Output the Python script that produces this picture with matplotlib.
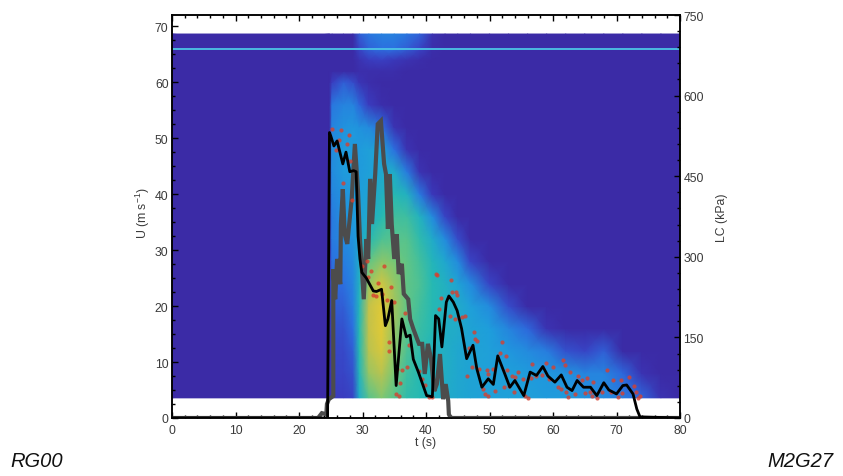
import matplotlib
matplotlib.use("Agg")
import matplotlib.pyplot as plt
from matplotlib.colors import LinearSegmentedColormap
from matplotlib.ticker import MultipleLocator

plt.rcParams['font.family'] = ['Liberation Sans', 'DejaVu Sans']
plt.rcParams['mathtext.fontset'] = 'custom'
plt.rcParams['mathtext.rm'] = 'Liberation Sans'
plt.rcParams['mathtext.default'] = 'regular'

heat_t = [0, 24.8, 25.2, 27, 28.5, 29.5, 31, 33, 35, 37, 39, 41, 43, 45, 47, 50, 53, 56, 59, 62, 65, 68, 71, 74, 77, 80]
heat_u = [3.6, 8, 12, 16, 20, 24, 28, 32, 36, 40, 44, 48, 52, 56, 60, 62, 64, 66, 68.6]
heat = [
 [0,0,.10,.10,.12,.42,.60,.68,.60,.52,.50,.45,.42,.40,.38,.36,.36,.36,.34,.34,.32,.30,.26,.20,.05,0],
 [0,0,.12,.12,.15,.48,.72,.78,.66,.55,.50,.46,.44,.40,.38,.36,.36,.34,.33,.32,.28,.28,.20,.05,0,0],
 [0,0,.13,.13,.18,.50,.78,.88,.70,.58,.52,.46,.44,.40,.38,.36,.33,.30,.26,.15,.12,.18,0,0,0,0],
 [0,0,.15,.15,.22,.50,.80,.92,.72,.60,.54,.50,.44,.42,.38,.35,.28,.20,.05,0,0,0,0,0,0,0],
 [0,0,.18,.18,.26,.48,.80,.92,.74,.62,.56,.50,.46,.42,.36,.30,.14,0,0,0,0,0,0,0,0,0],
 [0,0,.20,.22,.28,.45,.72,.85,.72,.62,.58,.50,.45,.38,.30,.12,0,0,0,0,0,0,0,0,0,0],
 [0,0,.22,.26,.30,.42,.62,.70,.66,.62,.56,.48,.40,.30,.12,0,0,0,0,0,0,0,0,0,0,0],
 [0,0,.25,.30,.32,.38,.50,.58,.60,.60,.52,.42,.30,.14,0,0,0,0,0,0,0,0,0,0,0,0],
 [0,0,.25,.32,.34,.36,.42,.50,.56,.55,.46,.30,.12,0,0,0,0,0,0,0,0,0,0,0,0,0],
 [0,0,.28,.32,.34,.35,.38,.45,.50,.45,.25,.08,0,0,0,0,0,0,0,0,0,0,0,0,0,0],
 [0,0,.30,.34,.34,.34,.36,.40,.42,.25,.05,0,0,0,0,0,0,0,0,0,0,0,0,0,0,0],
 [0,0,.30,.34,.34,.34,.36,.38,.22,.05,0,0,0,0,0,0,0,0,0,0,0,0,0,0,0,0],
 [0,0,.28,.32,.33,.32,.30,.22,.05,0,0,0,0,0,0,0,0,0,0,0,0,0,0,0,0,0],
 [0,0,.24,.28,.28,.20,.10,.02,0,0,0,0,0,0,0,0,0,0,0,0,0,0,0,0,0,0],
 [0,0,.10,.18,.14,.06,.02,0,0,0,0,0,0,0,0,0,0,0,0,0,0,0,0,0,0,0],
 [0,0,0,0,0,.02,.02,.02,.02,0,0,0,0,0,0,0,0,0,0,0,0,0,0,0,0,0],
 [0,0,0,0,0,.05,.10,.11,.08,.05,.02,0,0,0,0,0,0,0,0,0,0,0,0,0,0,0],
 [0,0,0,0,0,.12,.19,.22,.22,.18,.12,.02,0,0,0,0,0,0,0,0,0,0,0,0,0,0],
 [0,0,0,0,0,.18,.24,.27,.27,.24,.19,.04,0,0,0,0,0,0,0,0,0,0,0,0,0,0],
]

flat_line_u = 66.0

black_t = [0, 24.5, 24.8, 25, 25.5, 26, 26.9, 27.4, 28, 28.6, 29, 29.3, 29.6, 29.9, 30.6, 31.7, 32.2, 33, 33.6, 34, 34.6, 35.3, 36.2, 36.9, 37.5, 38, 38.8, 40.1, 41, 41.2, 41.5, 42, 42.5, 43.2, 43.6, 44.3, 44.9, 45.6, 46.4, 47.4, 48, 48.8, 49.8, 50.6, 51.3, 52.4, 53.2, 54, 55.4, 56.4, 57.4, 58.4, 59.2, 60.3, 61.3, 62.2, 63, 63.8, 64.8, 65.9, 66.9, 68, 68.8, 70, 71, 71.6, 72.6, 73.2, 73.7, 80]
black_u = [0, 0, 51, 50.4, 48.6, 49.5, 45.4, 47.5, 44, 44.2, 44, 32.5, 28.4, 26, 25, 22.7, 22.6, 23, 16.5, 17.7, 21, 5.8, 17.7, 14.5, 14.8, 10.5, 8.2, 4, 3.8, 9, 18.3, 17.7, 12.7, 20.7, 21.8, 20.7, 19.2, 16, 10.6, 13, 8.8, 5.5, 7, 6, 11.1, 7.9, 5.5, 6.7, 4, 8.2, 7.6, 9.2, 7.5, 6.4, 7.7, 5.5, 4.9, 6.7, 5.5, 5.5, 4, 6.3, 5, 4.3, 5.8, 5.9, 4.3, 1.6, 0.2, 0]

gray_t = [0, 23, 23.6, 24.3, 24.4, 24.7, 25.4, 25.4, 25.7, 26, 26.5, 26.6, 26.9, 27.2, 27.6, 28.3, 28.8, 29.3, 29.6, 30.2, 30.6, 30.9, 31.2, 31.5, 32, 32.4, 32.9, 33.4, 33.7, 34, 34.3, 34.6, 35, 35.4, 35.7, 36.2, 36.5, 37.2, 37.5, 38, 38.6, 38.9, 39.4, 39.8, 40.3, 40.8, 41.3, 41.7, 42.2, 42.7, 43.1, 43.5, 43.6, 43.9, 80]
gray_kpa = [0, 0, 9, 7, 26, 35, 41, 277, 221, 296, 249, 361, 426, 342, 324, 408, 510, 421, 333, 221, 333, 296, 445, 361, 454, 547, 553, 473, 454, 352, 454, 361, 296, 342, 268, 287, 231, 221, 184, 166, 147, 138, 138, 82, 138, 110, 50, 63, 119, 35, 63, 32, 7, 0, 0]

red_t = [25.2, 26.6, 27.8, 26.3, 27.5, 25.9, 28, 27, 28.3, 29.9, 30.7, 31.4, 33.4, 30.9, 32.4, 34.5, 31.7, 32.2, 33, 33.8, 35, 34.1, 34.2, 35.4, 36.2, 37, 35.9, 35.3, 35.7, 37.4, 36.7, 38.9, 39.3, 39.8, 40.5, 41, 41.6, 41.8, 43.9, 44.1, 44.7, 44.9, 42.3, 42.1, 43.8, 44.6, 45.6, 46.1, 47.5, 47.7, 48.1, 46.7, 47.3, 46.4, 48.4, 49.6, 50.6, 49.8, 49, 49.3, 49.7, 50.9, 52, 51.7, 52.6, 52.8, 53.5, 54, 52.3, 53, 53.8, 54.5, 55.2, 55.6, 56, 56.7, 56.6, 57.4, 58.2, 58.9, 59.3, 60, 61.5, 61.9, 62.7, 60.8, 61.3, 62, 62.4, 63.4, 64, 65.3, 64.5, 66.3, 65, 65.8, 66.1, 66.9, 68.5, 69.5, 70.7, 72, 67.7, 69.2, 70.3, 70.8, 72.8, 73.7, 73.4, 73]
red_u = [51.6, 51.4, 50.5, 49.6, 49, 47.8, 45.9, 42, 38.9, 27.2, 28.1, 26.2, 27.1, 25.2, 24.1, 23.4, 21.9, 21.8, 22.2, 21, 20.8, 13.6, 11.9, 8.8, 8.6, 9.1, 6.3, 4.3, 3.9, 13.1, 18.8, 8.4, 7, 5.9, 3.7, 3.7, 25.8, 25.5, 24.7, 22.6, 22.6, 21.9, 21.5, 19.4, 18.3, 17.7, 18, 18.2, 15.4, 14.1, 13.7, 12.5, 9.2, 7.5, 8.8, 8.6, 8.8, 7.9, 5.2, 4.3, 4, 4.9, 13.6, 11.7, 11, 8.5, 7.5, 7.3, 5.5, 5.7, 4.6, 8.3, 6.9, 4, 3.6, 9.7, 7.1, 7.5, 7.6, 9.8, 7, 9.2, 10.3, 9.4, 8.3, 5.5, 5.1, 4.6, 3.8, 4.3, 7.5, 7.1, 6.7, 6.5, 4.5, 4.7, 3.9, 3.5, 8.6, 6.8, 6.7, 7.3, 4.6, 4.7, 3.7, 4.4, 5.8, 4, 3.6, 4.6]

x_ticks = [0, 10, 20, 30, 40, 50, 60, 70, 80]
u_ticks = [0, 10, 20, 30, 40, 50, 60, 70]
lc_ticks = [0, 150, 300, 450, 600, 750]

cmap = LinearSegmentedColormap.from_list("par", [
    (0.0, "#3B2BA6"), (0.10, "#3A3CC0"), (0.22, "#2C6FE0"), (0.35, "#1E9EDC"),
    (0.50, "#25B9B4"), (0.65, "#70C87A"), (0.80, "#C4C24A"), (1.0, "#F2CF2A")])

W, H = 843, 477
fig = plt.figure(figsize=(W / 100, H / 100), dpi=100, facecolor="white")
ax = fig.add_axes([172 / W, 1 - 419 / H, (680 - 172) / W, (419 - 16) / H])
ax.pcolormesh(heat_t, heat_u, heat, cmap=cmap, vmin=0, vmax=1, shading="gouraud", rasterized=True)
ax.axhline(flat_line_u, color="#4CC4E6", lw=1.3)
ax.set_xlim(0, 80)
ax.set_ylim(0, 72)

ax2 = ax.twinx()
ax2.plot(gray_t, gray_kpa, color="#4C4C4C", lw=3.0, solid_joinstyle="miter")
ax2.set_ylim(0, 750)

ax3 = ax.twinx()
ax3.set_ylim(0, 72)
ax3.axis("off")
ax3.scatter(red_t, red_u, s=9, color="#D8402E", alpha=0.8, lw=0, clip_on=False)
ax3.plot(black_t, black_u, color="black", lw=2.0, solid_joinstyle="round")

tc = "#3A3A3A"
fs = 8.8
ax.set_xticks(x_ticks)
ax.set_yticks(u_ticks)
ax.xaxis.set_minor_locator(MultipleLocator(2))
ax.yaxis.set_minor_locator(MultipleLocator(2.5))
ax.tick_params(which="major", direction="in", length=4.5, width=1, top=True, labelsize=fs, labelcolor=tc, pad=2.5)
ax.tick_params(axis="x", which="major", pad=4.5)
ax.tick_params(which="minor", direction="in", length=2, width=1, top=True)
ax2.set_yticks(lc_ticks)
ax2.yaxis.set_minor_locator(MultipleLocator(30))
ax2.tick_params(which="major", direction="in", length=4.5, width=1, labelsize=fs, labelcolor=tc, pad=2.5)
ax2.tick_params(which="minor", direction="in", length=2, width=1)
for a in (ax, ax2):
    for s in a.spines.values():
        s.set_linewidth(1.1)

fig.text(143 / W, 1 - 213 / H, "U (m s$^{-1}$)", rotation=90, ha="center", va="center", fontsize=fs, color=tc)
fig.text(722 / W, 1 - 218 / H, "LC (kPa)", rotation=90, ha="center", va="center", fontsize=fs, color=tc)
fig.text(426 / W, 1 - 443 / H, "t (s)", ha="center", va="center", fontsize=fs, color=tc)
fig.text(10 / W, 1 - 462 / H, "RG00", ha="left", va="center", fontsize=14.5, style="italic", color="#111111")
fig.text(833 / W, 1 - 462 / H, "M2G27", ha="right", va="center", fontsize=14.5, style="italic", color="#111111")

fig.savefig("out.png", dpi=100)
